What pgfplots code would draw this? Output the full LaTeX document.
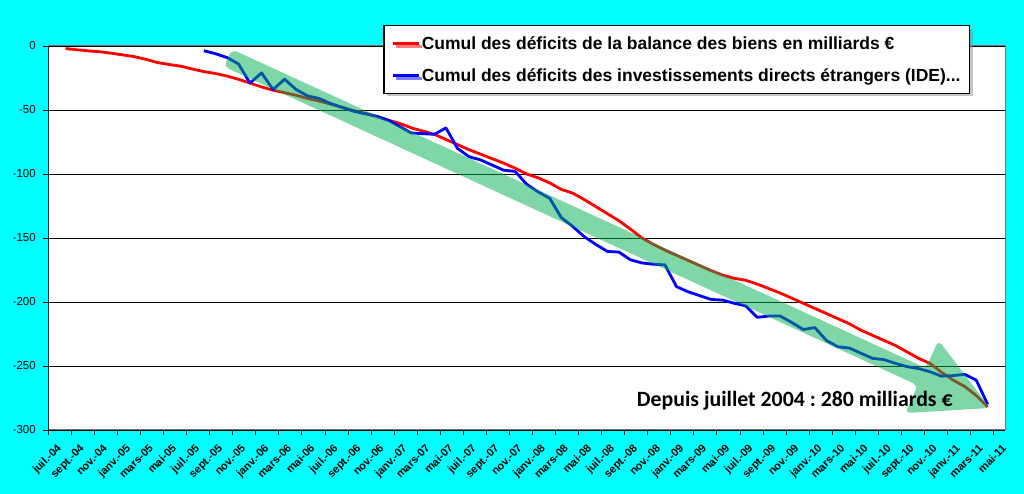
\documentclass[border=0pt]{standalone}
\usepackage{fontspec}
\setmainfont{Liberation Sans}
\newfontfamily\carlito{Carlito}
\usepackage{pgfplots}
\pgfplotsset{compat=1.18}
\usetikzlibrary{shadows}
\definecolor{bgcyan}{RGB}{0,255,255}
\definecolor{arrowgreen}{RGB}{0,176,80}
\definecolor{xlred}{RGB}{255,0,0}
\definecolor{xlblue}{RGB}{0,0,255}
\frenchspacing
\begin{document}
\begin{tikzpicture}
\fill[bgcyan] (0pt,0pt) rectangle (1024pt,494pt);
\useasboundingbox (0pt,0pt) rectangle (1024pt,494pt);
\begin{axis}[
  at={(48.3pt,64pt)}, anchor=south west,
  scale only axis, width=956.7pt, height=384pt,
  xmin=-0.5, xmax=82.5, ymin=-300, ymax=0,
  axis background/.style={fill=white},
  axis line style={draw=black!55, line width=1pt},
  tick align=outside, tick pos=left,
  major tick length=0pt, minor tick length=5pt,
  tick style={black, line width=0.8pt},
  xtick={0,2,...,82},
  xticklabels={juil.-04,sept.-04,nov.-04,janv.-05,mars-05,mai-05,juil.-05,sept.-05,nov.-05,janv.-06,mars-06,mai-06,juil.-06,sept.-06,nov.-06,janv.-07,mars-07,mai-07,juil.-07,sept.-07,nov.-07,janv.-08,mars-08,mai-08,juil.-08,sept.-08,nov.-08,janv.-09,mars-09,mai-09,juil.-09,sept.-09,nov.-09,janv.-10,mars-10,mai-10,juil.-10,sept.-10,nov.-10,janv.-11,mars-11,mai-11},
  minor xtick={-0.5,1.5,...,81.5},
  xticklabel style={yshift=-12pt, xshift=2pt, rotate=45, anchor=north east, font=\fontsize{11}{12}\selectfont\bfseries, inner sep=1pt},
  ytick={-300,-250,-200,-150,-100,-50,0},
  minor ytick={-300,-250,-200,-150,-100,-50,0},
  yticklabels={-300,-250,-200,-150,-100,-50,0},
  yticklabel style={font=\fontsize{11.5}{13}\selectfont, xshift=-9pt},
  ymajorgrids, grid style={black, line width=0.8pt},
  legend style={at={(0.3498,1.055)}, anchor=north west, draw=black, line width=1.6pt, fill=white,
    drop shadow={shadow xshift=3pt, shadow yshift=-3pt, fill=black!45},
    font=\fontsize{17.5}{20}\selectfont\bfseries, row sep=16pt, inner xsep=8pt, inner ysep=9.5pt,
    nodes={inner sep=1pt}},
  legend cell align=left,
  legend image code/.code={\draw[#1, line width=3pt] (0pt,0pt) -- (26pt,0pt);},
]
\draw[black, line width=1pt] (rel axis cs:0,0) -- (rel axis cs:0,1);
\addplot[xlred, line width=2.8pt, line join=round] coordinates {
(1,-2) (2,-3) (3,-3.8) (4,-4.5) (5,-5.7) (6,-7) (7,-8.4) (8,-10.5) (9,-13) (10,-14.5)
(11,-15.8) (12,-18) (13,-20) (14,-21.5) (15,-23.5) (16,-26) (17,-29) (18,-32) (19,-34.5) (20,-36.5)
(21,-38.5) (22,-41) (23,-43) (24,-45.5) (25,-48) (26,-50.5) (27,-52.5) (28,-55) (29,-58) (30,-60.5)
(31,-64) (32,-66.5) (33,-69) (34,-73) (35,-77) (36,-81) (37,-84.5) (38,-88) (39,-91.5) (40,-95.5)
(41,-100) (42,-103) (43,-107) (44,-112) (45,-115) (46,-120) (47,-125.5) (48,-131) (49,-136.5) (50,-143)
(51,-150) (52,-155) (53,-159.5) (54,-163.5) (55,-167.5) (56,-171.5) (57,-175.5) (58,-179) (59,-181.5) (60,-183)
(61,-186) (62,-189.5) (63,-193) (64,-197) (65,-201) (66,-205) (67,-209) (68,-213) (69,-217) (70,-222)
(71,-226) (72,-230) (73,-234) (74,-239) (75,-244) (76,-248) (77,-255) (78,-261) (79,-266) (80,-273) (81,-282)
};
\addlegendentry{Cumul des déficits de la balance des biens en milliards €}
\addplot[xlblue, line width=2.8pt, line join=round] coordinates {
(13,-3.7) (14,-6) (15,-9) (16,-14) (17,-29) (18,-21) (19,-34) (20,-26)
(21,-34) (22,-39) (23,-41) (24,-45) (25,-48) (26,-51) (27,-53) (28,-55) (29,-58) (30,-63)
(31,-68) (32,-68.5) (33,-69) (34,-64) (35,-80) (36,-86.5) (37,-89) (38,-93) (39,-97) (40,-98)
(41,-108) (42,-114) (43,-119) (44,-134) (45,-141) (46,-149) (47,-155) (48,-160.5) (49,-161) (50,-167)
(51,-169.5) (52,-170.5) (53,-171) (54,-188) (55,-192) (56,-195) (57,-198) (58,-198.5) (59,-201) (60,-203)
(61,-212) (62,-211) (63,-211) (64,-216) (65,-221.5) (66,-220) (67,-230) (68,-235) (69,-236) (70,-240)
(71,-244) (72,-245) (73,-248) (74,-250.5) (75,-252) (76,-254.5) (77,-258) (78,-257.5) (79,-256.5) (80,-261) (81,-280)
};
\addlegendentry{Cumul des déficits des investissements directs étrangers (IDE)...}
\end{axis}
\fill[arrowgreen, fill opacity=0.5, rounded corners=5pt]
  (232pt,444.6pt) -- (925.8pt,125.9pt) -- (938.5pt,153.7pt) -- (990pt,86pt)
  -- (905.1pt,80.9pt) -- (917.8pt,108.7pt) -- (224pt,427.4pt) -- cycle;
\node[anchor=base west, inner sep=0pt, font=\carlito\fontsize{21.8}{24}\selectfont\bfseries] at (636.7pt,87.3pt) {Depuis juillet 2004 : 280 milliards €};
\end{tikzpicture}
\end{document}
